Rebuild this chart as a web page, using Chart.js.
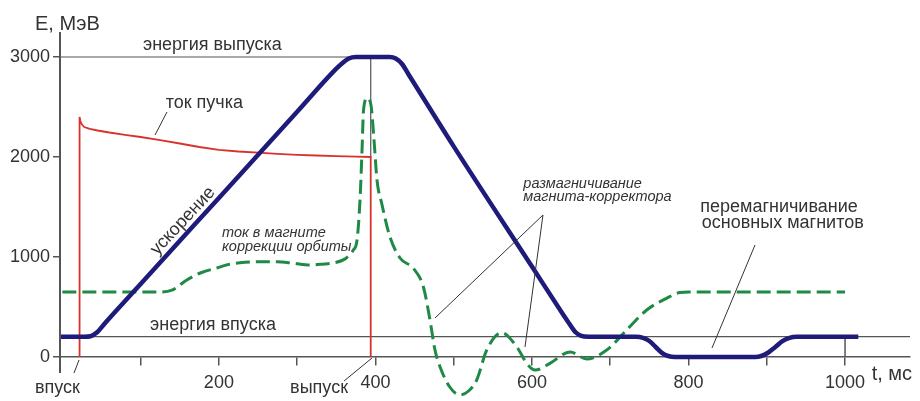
<!DOCTYPE html>
<html>
<head>
<meta charset="utf-8">
<script src="https://cdn.jsdelivr.net/npm/chart.js@4"></script>
<style>
html,body{margin:0;padding:0;background:#fff;}
#wrap{width:920px;height:401px;}
</style>
</head>
<body>
<div id="wrap"><canvas id="c" width="920" height="401"></canvas></div>
<script>
// ---------- axes / ticks ----------
const xMin = -3, xMax = 1083;
const yMin = -440, yMax = 3250;
const yAxisTop = 3250, yAxisBottom = -160;
const yTicks = [0, 1000, 2000, 3000];
const xTicks = [100, 200, 300, 400, 500, 600, 700, 800, 900, 1000];
const xTickLabels = [200, 400, 600, 800, 1000];

// ---------- reference levels ----------
const injectionEnergy = 203;
const extractionEnergy = 3000;
const injectionTime = 22;
const extractionTime = 394;
const beamAtExtraction = 2000;

// ---------- ускорение (energy of the main magnets) ----------
const accelT = [-3, 28, 36, 44, 55, 100, 200, 300, 350, 358, 366, 375, 418, 426, 434, 442, 500, 600, 640, 648, 656, 663, 672,
  733, 742, 750, 758, 766, 774, 783, 885, 893, 902, 911, 920, 929, 938, 1017];
const accelE = [203, 203, 208, 245, 343, 730, 1591, 2452, 2883, 2940, 2985, 3000, 3000, 2985, 2930, 2830, 2106, 904, 423, 330, 245, 212, 203,
  203, 192, 160, 100, 42, 10, 0, 0, 10, 45, 100, 158, 192, 203, 203];

// ---------- ток пучка (beam current) ----------
const beamT = [22, 22, 23, 25, 28, 35, 45, 60, 80, 100, 125, 150, 175, 200, 225, 250, 275, 300, 325, 350, 375, 394, 394];
const beamE = [0, 2400, 2360, 2325, 2300, 2282, 2265, 2245, 2222, 2200, 2168, 2135, 2100, 2072, 2055, 2043, 2032, 2022, 2015, 2008, 2003, 2000, 0];

// ---------- ток в магните коррекции орбиты ----------
const corrT = [0, 60, 125, 140, 159, 178, 197, 212, 227, 252, 274, 295, 316, 332, 346, 362, 371.7, 376.5, 380.3, 382.9, 384.8, 389.6,
  394.3, 398.2, 402, 408, 418.6, 431.4, 448.4, 461.2, 469.7, 476.1, 482.5, 495, 508, 519, 529.4, 542.2, 561.3, 580.5, 593.3, 604,
  623, 648.6, 670, 695.5, 721, 746.6, 772, 789, 800, 1000];
const corrE = [650, 650, 650, 668, 770, 845, 890, 925, 943, 953, 953, 938, 920, 928, 940, 985, 1070, 1170, 1570, 2070, 2470, 2590,
  2520, 2170, 1770, 1537, 1200, 990, 887, 703, 370, 70, -97, -300, -380, -340, -230, 70, 243, 103, -63, -130,
  -63, 50, -20, 70, 270, 470, 587, 645, 650, 650];

// ---------- text annotations (data coordinates) ----------
const notes = [
  {text: 'E, МэВ', t: -35, e: 3270, size: 20},
  {text: 'энергия выпуска', t: 103, e: 3070},
  {text: 'ток пучка', t: 132, e: 2490},
  {text: 'ток в магните', t: 204, e: 1205, italic: true, size: 14.5},
  {text: 'коррекции орбиты', t: 204, e: 1060, italic: true, size: 14.5},
  {text: 'размагничивание', t: 589, e: 1690, italic: true, size: 14.5},
  {text: 'магнита-корректора', t: 589, e: 1560, italic: true, size: 14.5},
  {text: 'перемагничивание', t: 815, e: 1450},
  {text: 'основных магнитов', t: 817, e: 1290},
  {text: 'энергия впуска', t: 112, e: 270},
  {text: 'впуск', t: -35, e: -360},
  {text: 'выпуск', t: 291, e: -360},
  {text: 't, мс', t: 1034, e: -230, size: 20},
  {text: 'ускорение', t: 154, e: 1360, rot: -47, align: 'center', baseline: 'middle'}
];
const pointers = [
  [133.7, 2450, 118.4, 2220],
  [21.3, -30, 14.9, -160],
  [395.6, -10, 359.9, -240],
  [614.1, 1420, 476.1, 390],
  [614.1, 1420, 591.1, 100],
  [885, 1120, 830, 90]
];

const FONT = '"Liberation Sans", Arial, sans-serif';
const pts = (ts, es) => ts.map((t, i) => ({x: t, y: es[i]}));

const overlay = {
  id: 'overlay',
  afterDatasetsDraw(chart) {
    const {ctx, scales: {x, y}} = chart;
    const px = t => x.getPixelForValue(t), py = e => y.getPixelForValue(e);
    ctx.save();
    ctx.strokeStyle = '#555';
    ctx.lineWidth = 2;
    ctx.beginPath();
    ctx.moveTo(px(xMin), py(yAxisTop));
    ctx.lineTo(px(xMin), py(yAxisBottom));
    ctx.stroke();
    ctx.strokeStyle = '#333';
    ctx.lineWidth = 1;
    pointers.forEach(p => {
      ctx.beginPath();
      ctx.moveTo(px(p[0]), py(p[1]));
      ctx.lineTo(px(p[2]), py(p[3]));
      ctx.stroke();
    });
    notes.forEach(n => {
      ctx.save();
      ctx.font = (n.italic ? 'italic ' : '') + (n.size || 18) + 'px ' + FONT;
      ctx.fillStyle = '#333';
      ctx.textAlign = n.align || 'left';
      ctx.textBaseline = n.baseline || 'alphabetic';
      ctx.translate(px(n.t), py(n.e));
      if (n.rot) ctx.rotate(n.rot * Math.PI / 180);
      ctx.fillText(n.text, 0, 0);
      ctx.restore();
    });
    ctx.restore();
  }
};

new Chart(document.getElementById('c'), {
  type: 'line',
  data: {
    datasets: [
      {label: 'ускорение', data: pts(accelT, accelE), borderColor: '#1e1b7a', borderWidth: 4.5,
        cubicInterpolationMode: 'monotone', pointRadius: 0, borderJoinStyle: 'round'},
      {label: 'ток в магните коррекции орбиты', data: pts(corrT, corrE), borderColor: '#1f8a46', borderWidth: 3,
        borderDash: [14, 6], cubicInterpolationMode: 'monotone', pointRadius: 0},
      {label: 'ток пучка', data: pts(beamT, beamE), borderColor: '#d8322c', borderWidth: 1.8, tension: 0, pointRadius: 0},
      {label: 'энергия выпуска', data: pts([xMin, extractionTime, extractionTime], [extractionEnergy, extractionEnergy, beamAtExtraction]),
        borderColor: '#555', borderWidth: 1.2, tension: 0, pointRadius: 0},
      {label: 'энергия впуска', data: pts([xMin, xMax], [injectionEnergy, injectionEnergy]),
        borderColor: '#555', borderWidth: 1.2, tension: 0, pointRadius: 0},
      {label: 'tick', data: pts([1000, 1000], [injectionEnergy, 0]),
        borderColor: '#555', borderWidth: 1.5, tension: 0, pointRadius: 0}
    ]
  },
  options: {
    responsive: false,
    animation: false,
    events: [],
    layout: {padding: {top: 32, right: 10, bottom: 0, left: 0}},
    plugins: {legend: {display: false}, tooltip: {enabled: false}},
    scales: {
      x: {
        type: 'linear', min: xMin, max: xMax, position: {y: 0},
        afterBuildTicks: s => { s.ticks = xTicks.map(v => ({value: v})); },
        afterFit: s => { s.height = 0; s.paddingLeft = 0; s.paddingRight = 0; },
        grid: {drawOnChartArea: false, drawTicks: true, tickLength: 8, color: '#555', lineWidth: 1.5},
        border: {display: true, color: '#555', width: 1.5},
        ticks: {autoSkip: false, maxRotation: 0, padding: 7, color: '#333', font: {family: FONT, size: 18},
          callback: v => xTickLabels.includes(v) ? String(v) : ''}
      },
      y: {
        type: 'linear', min: yMin, max: yMax, position: 'left',
        afterBuildTicks: s => { s.ticks = yTicks.map(v => ({value: v})); },
        afterFit: s => { s.width = 60; s.paddingTop = 0; s.paddingBottom = 0; },
        grid: {drawOnChartArea: false, drawTicks: true, tickLength: 7, color: '#555', lineWidth: 1.5},
        border: {display: false},
        ticks: {padding: 3, color: '#333', font: {family: FONT, size: 18}, callback: v => String(v)}
      }
    }
  },
  plugins: [overlay]
});
</script>
</body>
</html>
